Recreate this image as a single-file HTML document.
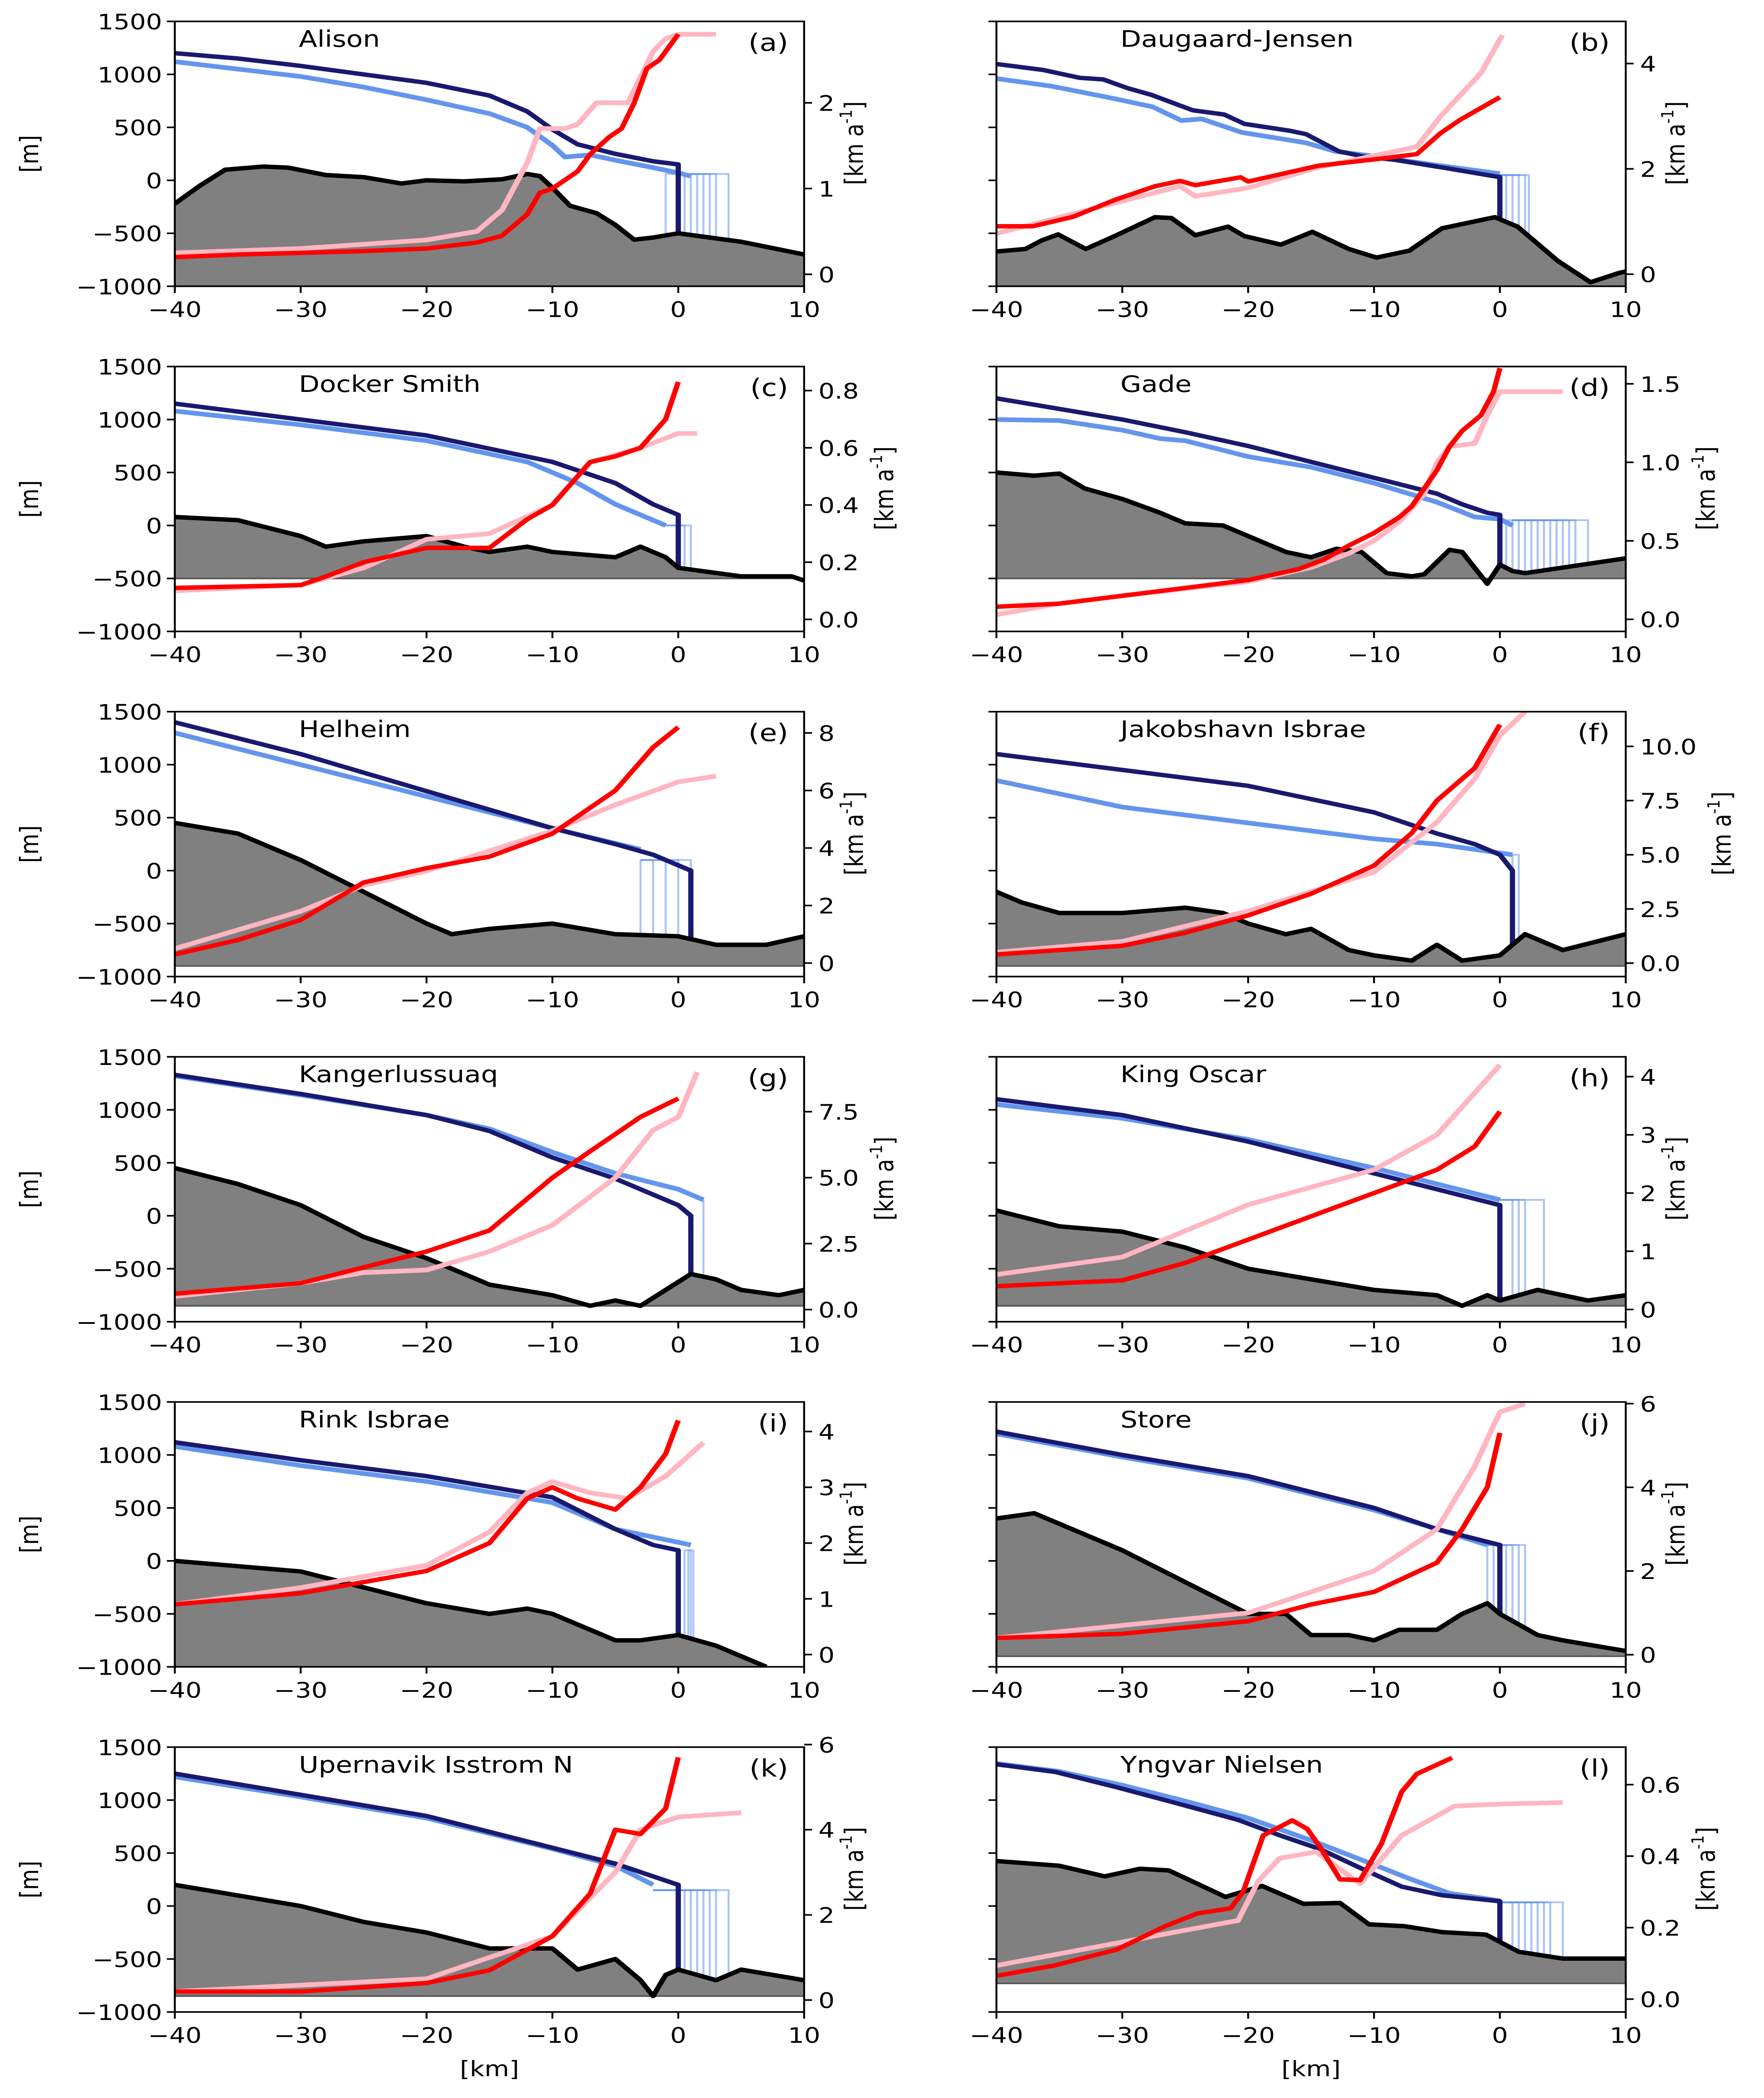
<!DOCTYPE html>
<html><head><meta charset="utf-8">
<style>
html,body{margin:0;padding:0;background:#fff;width:100vw;height:100vh;overflow:hidden;}
svg{display:block;width:100vw;height:100vh;font-family:"DejaVu Sans","Liberation Sans",sans-serif;}
</style></head>
<body>
<svg id="fig" viewBox="0 0 1110 1568.3" preserveAspectRatio="none" xmlns="http://www.w3.org/2000/svg"></svg>
<script>
const names = ["Alison","Daugaard-Jensen","Docker Smith","Gade","Helheim","Jakobshavn Isbrae","Kangerlussuaq","King Oscar","Rink Isbrae","Store","Upernavik Isstrom N","Yngvar Nielsen"];
const letters = ["(a)","(b)","(c)","(d)","(e)","(f)","(g)","(h)","(i)","(j)","(k)","(l)"];
const xTicks = [-40,-30,-20,-10,0,10];
const leftTicks = [1500,1000,500,0,-500,-1000];
const rightTicks = [[0,1,2],[0,2,4],[0,0.2,0.4,0.6,0.8],[0,0.5,1,1.5],[0,2,4,6,8],[0,2.5,5,7.5,10],[0,2.5,5,7.5],[0,1,2,3,4],[0,1,2,3,4],[0,2,4,6],[0,2,4,6],[0,0.2,0.4,0.6]];
const rightTickLabels = [["0","1","2"],["0","2","4"],["0.0","0.2","0.4","0.6","0.8"],["0.0","0.5","1.0","1.5"],["0","2","4","6","8"],["0.0","2.5","5.0","7.5","10.0"],["0.0","2.5","5.0","7.5"],["0","1","2","3","4"],["0","1","2","3","4"],["0","2","4","6"],["0","2","4","6"],["0.0","0.2","0.4","0.6"]];
const rightMin = [-0.14,-0.23,-0.042,-0.077,-0.47,-0.62,-0.46,-0.21,-0.22,-0.29,-0.28,-0.036];
const rightMax = [2.95,4.8,0.884,1.61,8.74,11.6,9.58,4.34,4.53,6.04,5.94,0.705];
const baseLevel = [-1000,-1000,-500,-500,-900,-900,-850,-850,-1000,-900,-850,-730];
const bed = [
[[-40,-220],[-38,-50],[-36,100],[-33,130],[-31,120],[-28,50],[-25,30],[-22,-30],[-20,0],[-17,-10],[-14,10],[-12,60],[-11,40],[-10,-70],[-8.6,-240],[-6.5,-310],[-5,-420],[-3.5,-560],[-2,-540],[0,-500],[5,-580],[10,-700]],
[[-40,-672],[-37.7,-648],[-36.4,-567],[-35.1,-510],[-32.9,-648],[-30.6,-526],[-27.4,-348],[-26.1,-356],[-24.2,-518],[-21.6,-437],[-20.3,-526],[-17.4,-607],[-14.9,-486],[-12,-648],[-9.8,-729],[-7.2,-664],[-4.6,-453],[-0.4,-348],[1.4,-437],[4.6,-760],[7.2,-962],[9.5,-873],[10,-860]],
[[-40,80],[-35,50],[-30,-100],[-28,-200],[-25,-150],[-20,-100],[-17,-200],[-15,-250],[-12,-200],[-10,-250],[-5,-300],[-3,-200],[-1,-300],[0,-400],[5,-480],[9,-480],[10,-520]],
[[-40,500],[-37,470],[-35,490],[-33,350],[-30,250],[-27,120],[-25,20],[-22,0],[-20,-100],[-17,-250],[-15,-300],[-13,-220],[-11,-250],[-9,-450],[-7,-480],[-6,-460],[-4,-230],[-3,-250],[-1,-550],[0,-370],[1,-430],[2,-450],[10,-310]],
[[-40,450],[-35,350],[-30,100],[-25,-200],[-20,-500],[-18,-600],[-15,-550],[-10,-500],[-5,-600],[0,-620],[3,-700],[7,-700],[10,-620]],
[[-40,-200],[-38,-300],[-35,-400],[-30,-400],[-25,-350],[-22,-400],[-20,-500],[-17,-600],[-15,-550],[-12,-750],[-10,-800],[-7,-850],[-5,-700],[-3,-850],[0,-800],[2,-600],[5,-750],[10,-600]],
[[-40,450],[-35,300],[-30,100],[-25,-200],[-20,-400],[-15,-650],[-10,-750],[-7,-850],[-5,-800],[-3,-850],[-1,-700],[1,-550],[3,-600],[5,-700],[8,-750],[10,-700]],
[[-40,50],[-35,-100],[-30,-150],[-25,-300],[-20,-500],[-15,-600],[-10,-700],[-5,-750],[-3,-850],[-1,-750],[0,-800],[3,-700],[7,-800],[10,-750]],
[[-40,0],[-35,-50],[-30,-100],[-25,-250],[-20,-400],[-15,-500],[-12,-450],[-10,-500],[-5,-750],[-3,-750],[0,-700],[3,-800],[7,-1000]],
[[-40,400],[-37,450],[-35,350],[-30,100],[-25,-200],[-20,-500],[-17,-500],[-15,-700],[-12,-700],[-10,-750],[-8,-650],[-5,-650],[-3,-500],[-1,-400],[0,-500],[3,-700],[5,-750],[10,-850]],
[[-40,200],[-35,100],[-30,0],[-25,-150],[-20,-250],[-15,-400],[-10,-400],[-8,-600],[-5,-500],[-3,-700],[-2,-850],[-1,-650],[0,-600],[3,-700],[5,-600],[10,-700]],
[[-40,425],[-35,380],[-31.4,280],[-28.6,352],[-26.3,336],[-21.8,86],[-18.9,190],[-15.6,21],[-12.7,29],[-10.4,-173],[-7.6,-190],[-4.6,-246],[-1.1,-270],[1.5,-432],[5,-496],[10,-496]]
];
const surfNavy = [
[[-40,1200],[-35,1150],[-30,1080],[-25,1000],[-20,920],[-15,800],[-12,650],[-10,480],[-8,340],[-5,250],[-2,180],[0,150]],
[[-40,1098],[-36.3,1042],[-33.4,968],[-31.5,952],[-29.6,871],[-27.7,807],[-24.4,661],[-21.9,621],[-20.3,533],[-16.7,468],[-15.4,436],[-12.8,274],[-10.9,226],[-8.3,193],[-4.1,112],[0,30]],
[[-40,1150],[-30,1000],[-20,850],[-10,600],[-5,400],[-2,200],[0,100]],
[[-40,1200],[-35,1100],[-30,1000],[-25,880],[-20,750],[-15,600],[-10,450],[-5,300],[-3,200],[-1,120],[0,100]],
[[-40,1400],[-30,1100],[-20,750],[-10,400],[-5,250],[-2,150],[0,50],[1,0]],
[[-40,1100],[-30,950],[-20,800],[-10,550],[-5,350],[-2,250],[0,150],[1,0]],
[[-40,1330],[-30,1150],[-20,950],[-15,800],[-10,550],[-5,350],[-2,200],[0,100],[1,0]],
[[-40,1100],[-30,950],[-20,700],[-10,400],[-5,250],[0,100]],
[[-40,1120],[-30,950],[-20,800],[-10,600],[-5,300],[-2,150],[0,100]],
[[-40,1220],[-30,1000],[-20,800],[-10,500],[-5,300],[0,150]],
[[-40,1250],[-30,1050],[-20,850],[-10,550],[-5,400],[0,200]],
[[-40,1338],[-35.3,1265],[-30.4,1120],[-25.3,958],[-20.8,813],[-17.5,668],[-14.3,538],[-11.1,360],[-7.8,183],[-4.6,102],[0,45]]
];
const surfBlue = [
[[-40,1120],[-35,1050],[-30,980],[-25,880],[-20,760],[-15,630],[-12,500],[-10,330],[-9,220],[-7,240],[-5,190],[-2,120],[0,70],[1,40]],
[[-40,961],[-35.6,888],[-30.8,775],[-27.6,694],[-25.3,564],[-23.7,580],[-20.5,452],[-15.4,354],[-13.1,274],[-9.9,226],[-5.1,144],[0,63]],
[[-40,1080],[-30,950],[-20,800],[-12,600],[-8,400],[-5,200],[-1,0]],
[[-40,1000],[-35,990],[-30,900],[-27,820],[-25,800],[-20,650],[-15,550],[-10,400],[-5,220],[-2,80],[0,60],[1,0]],
[[-40,1300],[-30,1000],[-20,700],[-10,400],[-3,200]],
[[-40,850],[-30,600],[-20,450],[-10,300],[-5,250],[1,150]],
[[-40,1320],[-30,1140],[-20,950],[-15,820],[-10,600],[-5,400],[0,250],[2,150]],
[[-40,1050],[-30,920],[-20,720],[-10,450],[-5,300],[0,150]],
[[-40,1080],[-30,900],[-20,750],[-10,550],[-5,300],[1,150]],
[[-40,1200],[-30,980],[-20,780],[-10,480],[-5,300],[-1,150]],
[[-40,1220],[-30,1030],[-20,830],[-10,540],[-5,380],[-2,200]],
[[-40,1345],[-35,1270],[-30,1140],[-25,990],[-20,830],[-15,620],[-10,390],[-7,250],[-4,120],[0,50]]
];
const fanX = [[-1,0.5,1,1.5,2,2.5,3,4],[0.5,1,1.5,2,2.3],[0,0.5,1],[0.5,1,1.5,2,2.5,3,3.5,4,4.5,5,5.5,6,7],[-3,-2,-1,0,1],[1,1.5],[2],[1,1.5,2,3.5],[0.5,0.8,1,1.2],[-1,-0.5,0,0.5,1,1.5,2],[0.5,1,1.5,2,2.5,3,4],[1,1.5,2,2.5,3,3.5,4,5]];
const fanTop = [60,50,0,50,100,150,150,150,100,150,150,35];
const velRed = [
[[-40,0.2],[-35,0.23],[-30,0.25],[-25,0.27],[-20,0.3],[-16,0.37],[-14,0.45],[-12,0.7],[-11,0.95],[-10,1.0],[-8,1.2],[-7,1.4],[-5.5,1.6],[-4.5,1.7],[-3.5,2.0],[-2.5,2.4],[-1.5,2.5],[0,2.8]],
[[-40,0.91],[-37.1,0.91],[-33.9,1.09],[-30.6,1.41],[-27.4,1.67],[-25.4,1.77],[-24.2,1.69],[-20.6,1.84],[-20,1.76],[-14.4,2.06],[-9.6,2.19],[-6.6,2.28],[-4.7,2.68],[-3.1,2.94],[0,3.36]],
[[-40,0.11],[-30,0.12],[-28,0.15],[-25,0.2],[-20,0.25],[-15,0.25],[-12,0.35],[-10,0.4],[-7,0.55],[-5,0.57],[-3,0.6],[-1,0.7],[0,0.83]],
[[-40,0.08],[-35,0.1],[-30,0.15],[-25,0.2],[-20,0.25],[-16,0.32],[-14,0.38],[-12,0.47],[-10,0.55],[-8,0.65],[-7,0.72],[-5,0.95],[-4,1.1],[-3,1.2],[-1.5,1.3],[-0.5,1.45],[0,1.6]],
[[-40,0.3],[-35,0.8],[-30,1.5],[-25,2.8],[-20,3.3],[-15,3.7],[-10,4.5],[-5,6.0],[-2,7.5],[0,8.2]],
[[-40,0.4],[-30,0.8],[-25,1.4],[-20,2.2],[-15,3.2],[-10,4.5],[-7,6.0],[-5,7.5],[-2,9.0],[0,11.0]],
[[-40,0.6],[-30,1.0],[-25,1.6],[-20,2.2],[-15,3.0],[-10,5.0],[-7,6.0],[-3,7.3],[0,8.0]],
[[-40,0.4],[-30,0.5],[-25,0.8],[-20,1.2],[-15,1.6],[-10,2.0],[-5,2.4],[-2,2.8],[0,3.4]],
[[-40,0.9],[-30,1.1],[-20,1.5],[-15,2.0],[-12,2.8],[-10,3.0],[-8,2.8],[-5,2.6],[-3,3.0],[-1,3.6],[0,4.2]],
[[-40,0.4],[-30,0.5],[-20,0.8],[-15,1.2],[-10,1.5],[-5,2.2],[-3,3.0],[-1,4.0],[0,5.3]],
[[-40,0.2],[-30,0.2],[-20,0.4],[-15,0.7],[-10,1.5],[-7,2.5],[-5,4.0],[-3,3.9],[-1,4.5],[0,5.7]],
[[-40,0.065],[-35.4,0.094],[-30.4,0.139],[-26.6,0.204],[-24,0.24],[-21.4,0.254],[-20.4,0.3],[-18.8,0.458],[-16.5,0.5],[-15.3,0.476],[-14.3,0.426],[-12.7,0.335],[-11.1,0.333],[-9.4,0.435],[-7.8,0.58],[-6.6,0.63],[-3.8,0.675]]
];
const velPink = [
[[-40,0.25],[-30,0.3],[-20,0.4],[-16,0.5],[-14,0.75],[-12,1.3],[-11,1.7],[-9,1.7],[-8,1.75],[-6.5,2.0],[-4,2.0],[-3,2.3],[-2,2.6],[-1,2.75],[0,2.8],[3,2.8]],
[[-40,0.77],[-30.6,1.35],[-25.4,1.67],[-24.2,1.48],[-20,1.64],[-14.4,2.03],[-6.6,2.42],[-4.7,3.0],[-1.5,3.82],[0.2,4.54]],
[[-40,0.1],[-30,0.12],[-25,0.18],[-20,0.28],[-15,0.3],[-10,0.4],[-7,0.55],[-3,0.6],[0,0.65],[1.5,0.65]],
[[-40,0.03],[-35,0.1],[-30,0.15],[-20,0.24],[-15,0.33],[-12,0.42],[-10,0.5],[-8,0.62],[-6,0.8],[-5,1.0],[-4,1.1],[-2,1.12],[-1,1.3],[0,1.45],[5,1.45]],
[[-40,0.5],[-30,1.8],[-25,2.7],[-20,3.2],[-10,4.6],[-5,5.5],[0,6.3],[3,6.5]],
[[-40,0.5],[-30,1.0],[-20,2.4],[-10,4.2],[-5,6.5],[-2,8.5],[0,10.5],[2,11.6]],
[[-40,0.5],[-30,1.0],[-25,1.4],[-20,1.5],[-15,2.2],[-10,3.2],[-5,5.0],[-2,6.8],[0,7.3],[1.5,9.0]],
[[-40,0.6],[-30,0.9],[-20,1.8],[-10,2.4],[-5,3.0],[0,4.2]],
[[-40,0.9],[-30,1.2],[-20,1.6],[-15,2.2],[-12,2.9],[-10,3.1],[-7,2.9],[-4,2.8],[-1,3.2],[2,3.8]],
[[-40,0.4],[-20,1.0],[-15,1.5],[-10,2.0],[-5,3.0],[-2,4.5],[0,5.8],[2,6.0]],
[[-40,0.2],[-20,0.5],[-10,1.5],[-5,3.0],[-3,4.0],[0,4.3],[5,4.4]],
[[-40,0.094],[-30.4,0.157],[-25.4,0.19],[-20.8,0.22],[-19.2,0.33],[-17.5,0.394],[-14.6,0.412],[-11.1,0.323],[-7.8,0.458],[-3.6,0.54],[0.3,0.546],[5,0.55]]
];

const NS = "http://www.w3.org/2000/svg";
const svg = document.getElementById('fig');
function mk(tag, attrs, parent){ const e=document.createElementNS(NS,tag); for(const k in attrs) e.setAttribute(k,attrs[k]); (parent||svg).appendChild(e); return e; }
function interp(arr,x){ for(let i=0;i<arr.length-1;i++){ if(x>=arr[i][0]&&x<=arr[i+1][0]){ const t=(x-arr[i][0])/(arr[i+1][0]-arr[i][0]); return arr[i][1]+t*(arr[i+1][1]-arr[i][1]); } } return arr[arr.length-1][1]; }

const PW=396, PH=198;
for(let p=0;p<12;p++){
  const col=p%2, row=Math.floor(p/2);
  const L = col===0?110:627, T = 16+258*row;
  const sx = x => L + (x+40)/50*PW;
  const sy = m => T + (1500-m)/2500*PH;
  const sr = v => T + PH - (v-rightMin[p])/(rightMax[p]-rightMin[p])*PH;
  const g = mk('g',{});
  
  
  const clipId='clip'+p;
  const cp=mk('clipPath',{id:clipId},g); mk('rect',{x:L,y:T,width:PW,height:PH},cp);
  const pg=mk('g',{'clip-path':'url(#'+clipId+')'},g);
  const b=bed[p];
  let d='M'+sx(b[0][0])+','+sy(baseLevel[p]);
  b.forEach(q=>d+=' L'+sx(q[0])+','+sy(q[1]));
  d+=' L'+sx(b[b.length-1][0])+','+sy(baseLevel[p])+' Z';
  const bf=mk('path',{d:d,fill:'#808080',stroke:'none'},pg);
  
  
  const bl=mk('line',{x1:L,x2:L+PW,y1:sy(baseLevel[p]),y2:sy(baseLevel[p]),stroke:'#555','stroke-width':1.2},pg);
  
  
  const line=(arr,f,attrs,name)=>{ const e=mk('path',Object.assign({d:'M'+arr.map(q=>sx(q[0])+','+f(q[1])).join(' L'),fill:'none','stroke-linejoin':'round','stroke-linecap':'butt'},attrs),pg);   return e; };
  line(surfBlue[p],sy,{stroke:'#6495ed','stroke-width':3.5},'surface-blue');
  const lastB=surfBlue[p][surfBlue[p].length-1];
  fanX[p].forEach(fx=>{
    const e=mk('path',{d:'M'+sx(lastB[0])+','+sy(fanTop[p])+' L'+sx(fx)+','+sy(fanTop[p])+' L'+sx(fx)+','+sy(interp(b,fx)),fill:'none',stroke:'#6495ed','stroke-width':1.3,opacity:0.55},pg);
    
    
  });
  const sn=surfNavy[p], lastN=sn[sn.length-1];
  line(sn.concat([[lastN[0],interp(b,lastN[0])]]),sy,{stroke:'#191970','stroke-width':3.3},'surface-navy');
  line(b,sy,{stroke:'#000','stroke-width':3.3},'bed-line');
  line(velPink[p],sr,{stroke:'#ffb6c1','stroke-width':3.5},'velocity-pink');
  line(velRed[p],sr,{stroke:'#ff0000','stroke-width':3.3},'velocity-red');
  const fr=mk('rect',{x:L,y:T,width:PW,height:PH,fill:'none',stroke:'#000','stroke-width':1.2},g);
  
  
  xTicks.forEach(t=>{
    mk('line',{x1:sx(t),x2:sx(t),y1:T+PH,y2:T+PH+5,stroke:'#000','stroke-width':1.2},g);
    const tx=mk('text',{x:sx(t),y:T+PH+23,'font-size':16,'text-anchor':'middle'},g);
    tx.textContent=(t<0?'\u2212'+(-t):''+t);
    
    
  });
  leftTicks.forEach(t=>{
    mk('line',{x1:L-5,x2:L,y1:sy(t),y2:sy(t),stroke:'#000','stroke-width':1.2},g);
    if(col===0){
      const tx=mk('text',{x:L-8,y:sy(t)+6,'font-size':16,'text-anchor':'end'},g);
      tx.textContent=(t<0?'\u2212'+(-t):''+t);
      
      
    }
  });
  let maxLen=0;
  rightTicks[p].forEach((t,i)=>{
    mk('line',{x1:L+PW,x2:L+PW+5,y1:sr(t),y2:sr(t),stroke:'#000','stroke-width':1.2},g);
    const tx=mk('text',{x:L+PW+9,y:sr(t)+6,'font-size':16,'text-anchor':'start'},g);
    tx.textContent=rightTickLabels[p][i];
    maxLen=Math.max(maxLen,rightTickLabels[p][i].length);
    
    
  });
  const nm=mk('text',{x:L+78,y:T+19,'font-size':17},g); nm.textContent=names[p];
  
  
  const lt=mk('text',{x:L+PW-10,y:T+22,'font-size':18,'text-anchor':'end'},g); lt.textContent=letters[p];
  
  
  if(col===0){
    const yl=mk('text',{x:0,y:0,'font-size':16,'text-anchor':'middle',transform:'translate(24,'+(T+PH/2)+') rotate(-90)'},g); yl.textContent='[m]';
    
    
  }
  const rx = L+PW+9+maxLen*10+(maxLen===1?6:5)+12;
  const rl=mk('text',{x:0,y:0,'font-size':16,'text-anchor':'middle',transform:'translate('+rx+','+(T+PH/2-8)+') rotate(-90)'},g);
  rl.innerHTML='[km a<tspan font-size="10.5" dy="-7">-1</tspan><tspan dy="7">]</tspan>';
  
  
  if(row===5){
    const xl=mk('text',{x:L+PW*0.5,y:T+PH+48,'font-size':16,'text-anchor':'middle'},g); xl.textContent='[km]';
    
    
  }
}
</script>
</body></html>
